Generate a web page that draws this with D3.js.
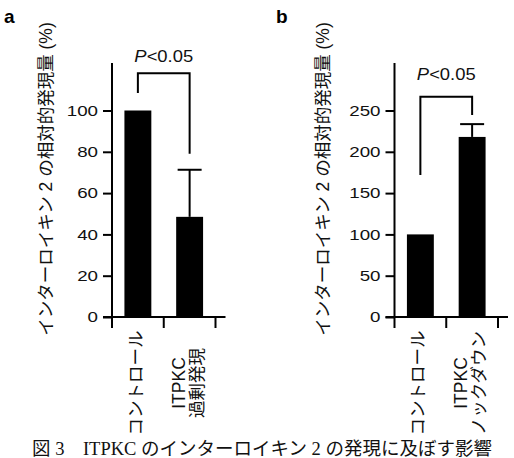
<!DOCTYPE html>
<html><head><meta charset="utf-8">
<script src="https://cdn.jsdelivr.net/npm/d3@7"></script>
<style>
html,body{margin:0;padding:0;background:#fff;}
svg{display:block;}
</style></head>
<body>
<script>
// ---- data ----
const categoriesA = ["コントロール", ["ITPKC", "過剰発現"]];
const valuesA = [100, 48.5];
const errorsA = [0, 22.8];
const ticksA = [0, 20, 40, 60, 80, 100];
const yMaxA = 123;
const bracketA = { top: 118, left: 108.5, right: 79 };

const categoriesB = ["コントロール", ["ITPKC", "ノックダウン"]];
const valuesB = [100, 218];
const errorsB = [0, 15.5];
const ticksB = [0, 50, 100, 150, 200, 250];
const yMaxB = 307.5;
const bracketB = { top: 266.5, left: 172, right: 244.5 };

const yTitle = "インターロイキン 2 の相対的発現量 (%)";
const pLabel = ["P", "<0.05"];
const caption = "図 3　ITPKC のインターロイキン 2 の発現に及ぼす影響";

const W = 514, H = 458;
const sansFont = "'Liberation Sans', Arial, 'Noto Sans CJK JP', sans-serif";
const svg = d3.select("body").append("svg").attr("width", W).attr("height", H)
  .style("background", "#fff");

function panel(cfg) {
  const g = svg.append("g");
  const y0 = 317, yTop = 63;
  const y = d3.scaleLinear().domain([0, cfg.yMax]).range([y0, yTop]);
  const keys = cfg.categories.map((c, i) => i);
  const x = d3.scaleBand().domain(keys).range([cfg.axisX, cfg.axisX + 103.5])
    .paddingInner(0.48).paddingOuter(0.24);
  const step = x.step();

  // bars
  g.selectAll("rect.bar").data(cfg.values).join("rect")
    .attr("x", (d, i) => x(i)).attr("width", x.bandwidth())
    .attr("y", d => y(d)).attr("height", d => y0 - y(d)).attr("fill", "#000");

  // error bars (upper only)
  cfg.values.forEach((v, i) => {
    if (!cfg.errors[i]) return;
    const cx = x(i) + x.bandwidth() / 2;
    g.append("line").attr("x1", cx).attr("x2", cx).attr("y1", y(v)).attr("y2", y(v + cfg.errors[i]))
      .attr("stroke", "#000").attr("stroke-width", 2);
    g.append("line").attr("x1", cx - 12).attr("x2", cx + 12)
      .attr("y1", y(v + cfg.errors[i])).attr("y2", y(v + cfg.errors[i]))
      .attr("stroke", "#000").attr("stroke-width", 2);
  });

  // y axis
  const yAxis = d3.axisLeft(y).tickValues(cfg.ticks).tickSize(9).tickPadding(5).tickSizeOuter(0);
  const ya = g.append("g").attr("transform", `translate(${cfg.axisX},0)`).call(yAxis);
  ya.select(".domain").remove();
  ya.append("line").attr("x1", 0).attr("x2", 0).attr("y1", yTop).attr("y2", y0)
    .attr("stroke", "#000").attr("stroke-width", 2);
  ya.selectAll(".tick line").attr("stroke", "#000").attr("stroke-width", 2);
  ya.selectAll(".tick text")
    .attr("font-family", sansFont).attr("font-size", 15).attr("fill", "#111")
    .attr("x", null).attr("dy", null).attr("dominant-baseline", "central")
    .attr("text-anchor", "end")
    .attr("transform", "translate(-14,0) scale(1.25,1)");

  // x axis line and ticks
  g.append("line").attr("x1", cfg.axisX - 9).attr("x2", cfg.axisX + 2 * step + 10)
    .attr("y1", y0).attr("y2", y0).attr("stroke", "#000").attr("stroke-width", 2);
  d3.range(cfg.categories.length + 1).forEach(i => {
    const tx = x.range()[0] + i * step;
    g.append("line").attr("x1", tx).attr("x2", tx).attr("y1", y0).attr("y2", y0 + 11)
      .attr("stroke", "#000").attr("stroke-width", 2);
  });

  // category labels (rotated)
  cfg.categories.forEach((c, i) => {
    const cx = x(i) + x.bandwidth() / 2 - 2;
    const lines = Array.isArray(c) ? c : [c];
    const offs = lines.length === 1 ? [0] : [-9, 9];
    lines.forEach((t, j) => {
      g.append("text").text(t)
        .attr("transform", `translate(${cx + offs[j]},383) rotate(-90)`)
        .attr("text-anchor", "middle").attr("dominant-baseline", "central")
        .attr("font-family", sansFont).attr("font-size", 17.5).attr("fill", "#111");
    });
  });

  // y title
  g.append("text").text(yTitle)
    .attr("transform", `translate(${cfg.titleX},179) rotate(-90)`)
    .attr("text-anchor", "middle").attr("dominant-baseline", "central")
    .attr("font-family", sansFont).attr("font-size", 17.5).attr("fill", "#111");

  // significance bracket
  const bx1 = x(0) + x.bandwidth() / 2, bx2 = x(1) + x.bandwidth() / 2;
  g.append("path")
    .attr("d", `M${bx1},${y(cfg.bracket.left)} V${y(cfg.bracket.top)} H${bx2} V${y(cfg.bracket.right)}`)
    .attr("fill", "none").attr("stroke", "#000").attr("stroke-width", 2);
  const pt = g.append("text")
    .attr("transform", `translate(${(bx1 + bx2) / 2 + cfg.pDx},${y(cfg.bracket.top) - cfg.pGap}) scale(1.15,1)`)
    .attr("text-anchor", "middle")
    .attr("font-family", sansFont).attr("font-size", 16).attr("fill", "#111");
  pt.append("tspan").text(pLabel[0]).attr("font-style", "italic");
  pt.append("tspan").text(pLabel[1]);

  // panel letter
  g.append("text").text(cfg.letter).attr("x", cfg.letterX).attr("y", 23)
    .attr("font-family", sansFont).attr("font-weight", "bold").attr("font-size", 19).attr("fill", "#000");
}

panel({ categories: categoriesA, values: valuesA, errors: errorsA, ticks: ticksA, yMax: yMaxA,
  bracket: bracketA, axisX: 112, titleX: 46, letter: "a", letterX: 4, pGap: 11, pDx: 0 });
panel({ categories: categoriesB, values: valuesB, errors: errorsB, ticks: ticksB, yMax: yMaxB,
  bracket: bracketB, axisX: 394.5, titleX: 323, letter: "b", letterX: 276, pGap: 17, pDx: 0 });

svg.append("text").text(caption).attr("x", 262).attr("y", 455)
  .attr("text-anchor", "middle")
  .attr("font-family", "'Liberation Serif', 'Noto Sans CJK JP', serif")
  .attr("font-size", 18.5).attr("fill", "#111");
</script>
</body></html>
